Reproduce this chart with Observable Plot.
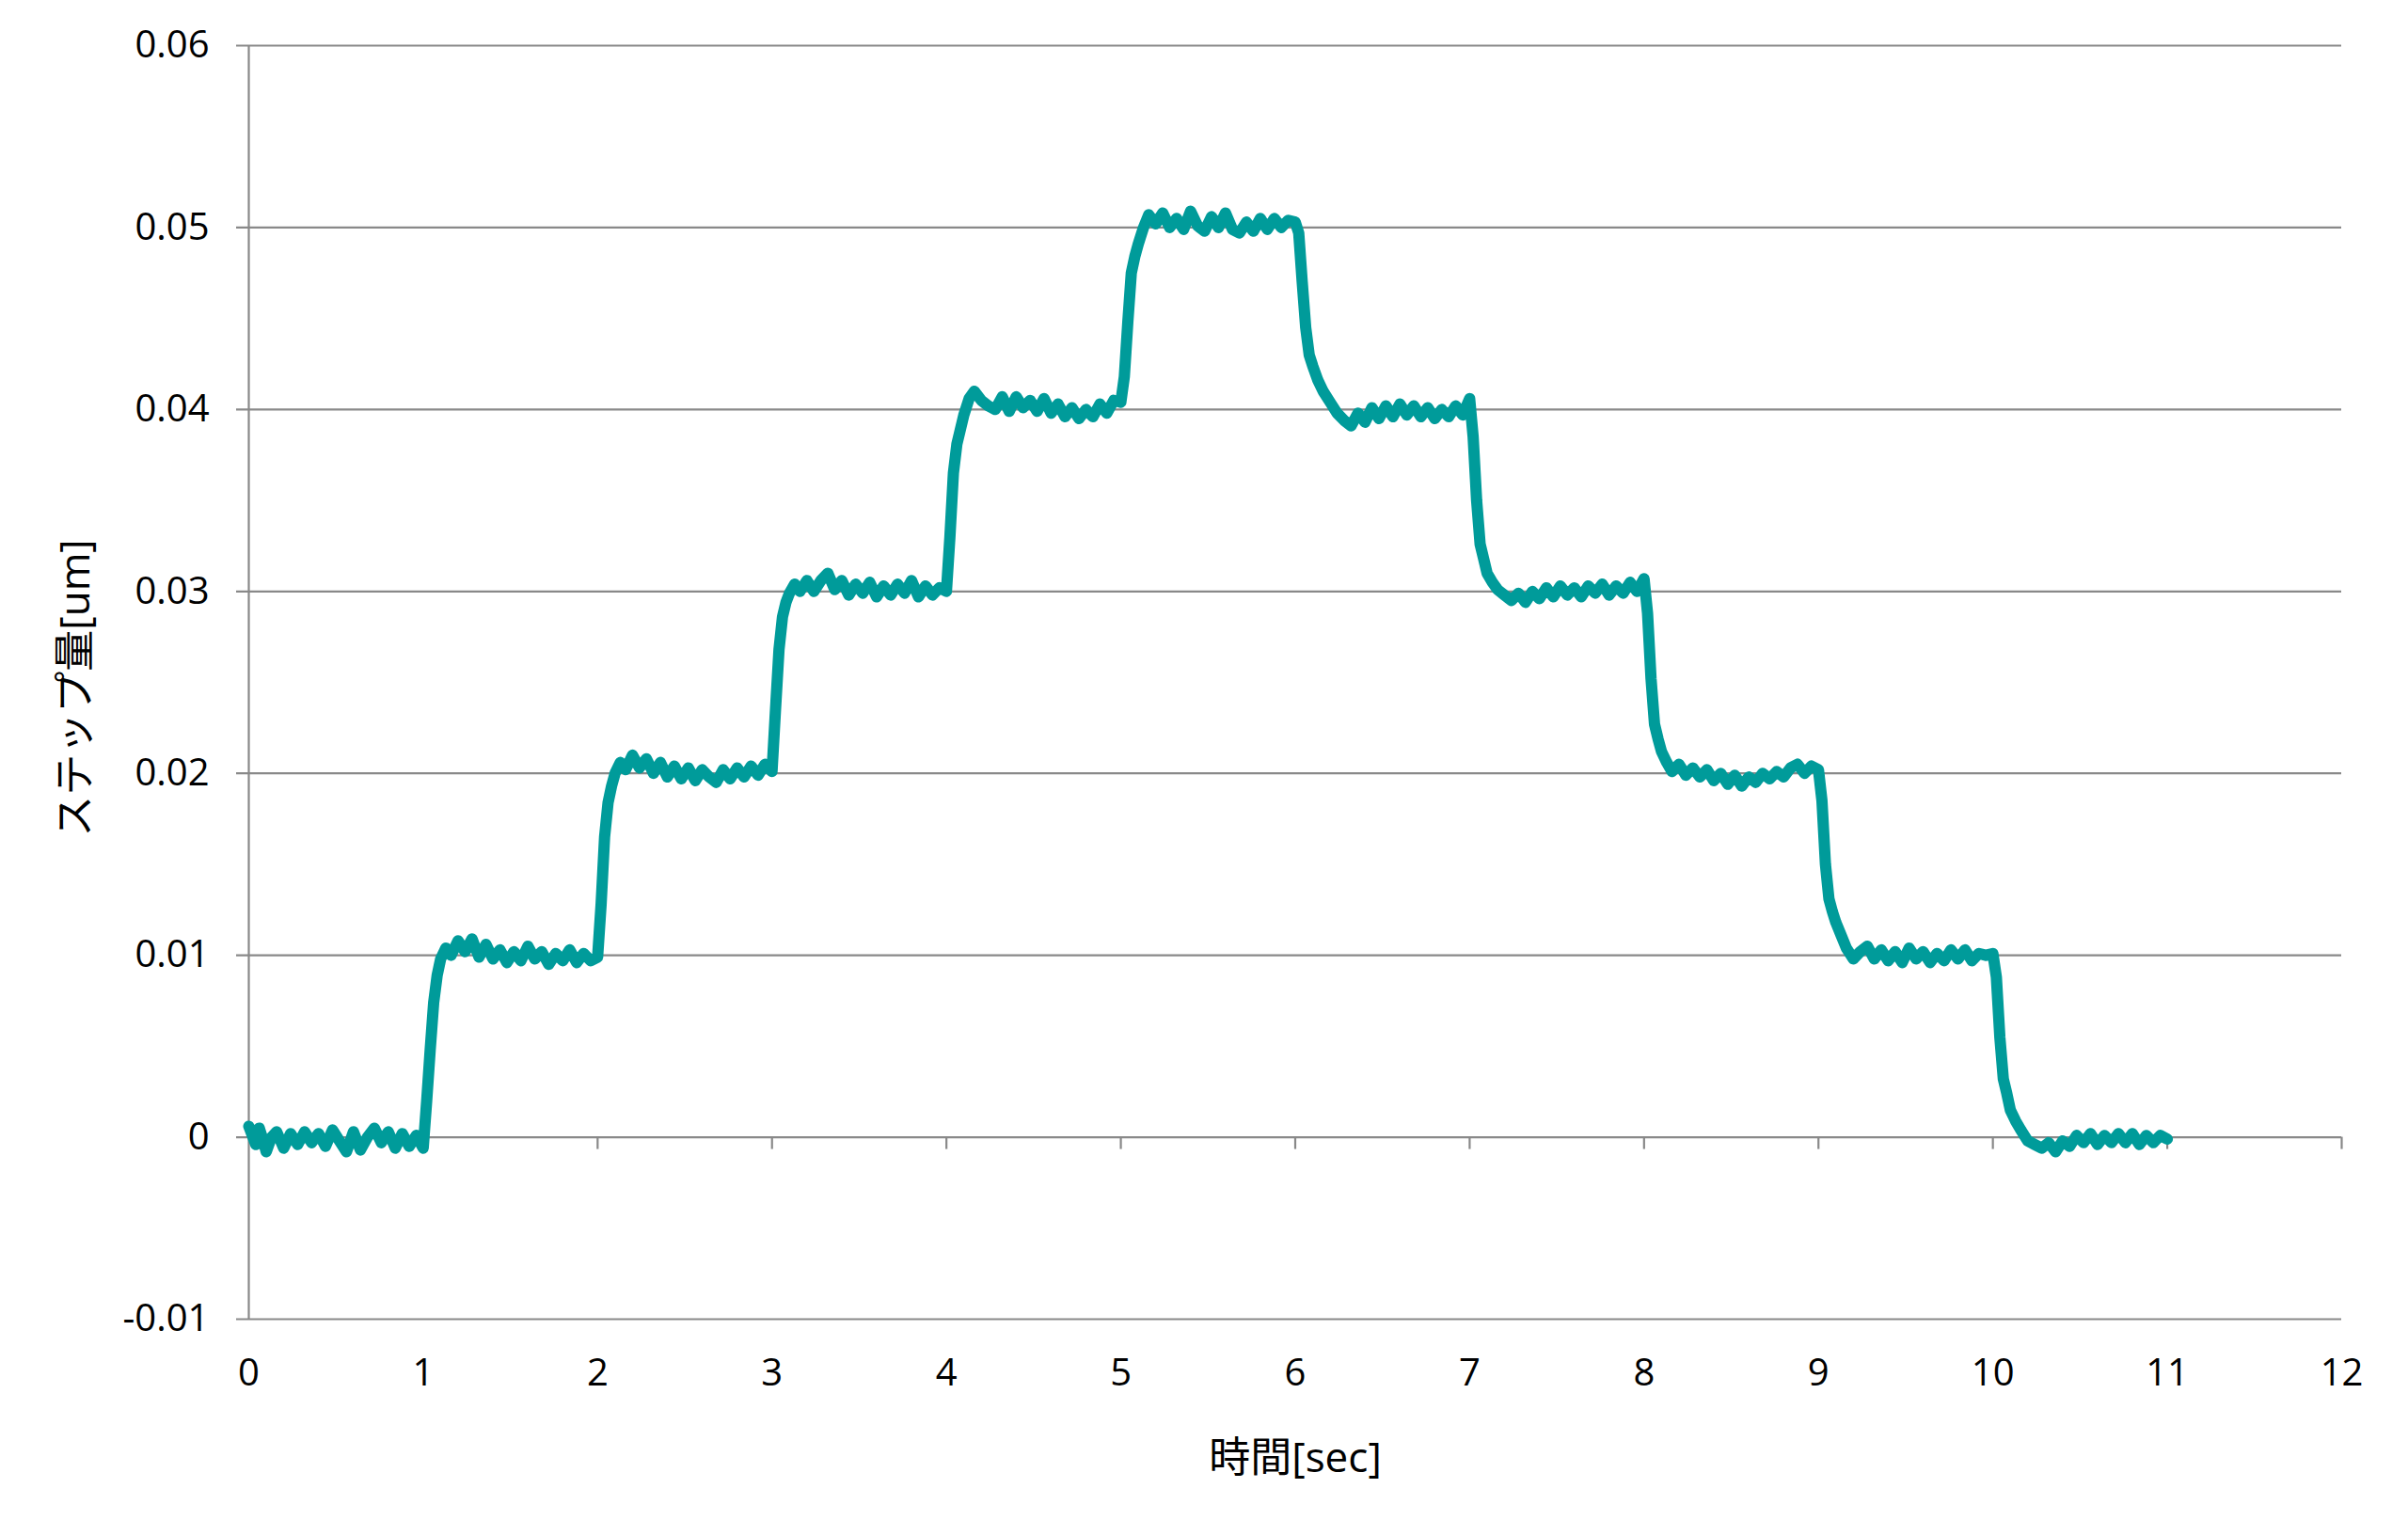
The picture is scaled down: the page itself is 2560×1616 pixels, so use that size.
<!DOCTYPE html>
<html><head><meta charset="utf-8">
<script src="https://cdn.jsdelivr.net/npm/d3@7"></script>
<script src="https://cdn.jsdelivr.net/npm/@observablehq/plot@0.6"></script>
<style>html,body{margin:0;padding:0;background:#fff;}</style>
</head><body><div id="chart"></div>
<script>
// Axis ticks and labels
const xTicks = [0,1,2,3,4,5,6,7,8,9,10,11,12];
const xTickLabels = ["0","1","2","3","4","5","6","7","8","9","10","11","12"];
const yTicks = [-0.01,0,0.01,0.02,0.03,0.04,0.05,0.06];
const yTickLabels = ["-0.01","0","0.01","0.02","0.03","0.04","0.05","0.06"];
const xTitle = "時間[sec]";
const yTitle = "ステップ量[um]";

// Sample times within each second (offset from the start of the second)
const sampleOffsets = [0.00,0.02,0.04,0.06,0.08,0.10,0.13,0.16,0.20,0.24,0.28,0.32,0.36,0.40,0.44,0.48,0.52,0.56,0.60,0.64,0.68,0.72,0.76,0.80,0.84,0.88,0.92,0.96];

// Measured step amount [um], one array per second (0-1 s, 1-2 s, ...)
const sec0  = [0.0006,0.0001,-0.0004,0.0005,-0.0001,-0.0008,0.0000,0.0003,-0.0006,0.0002,-0.0004,0.0003,-0.0003,0.0002,-0.0005,0.0004,-0.0002,-0.0008,0.0003,-0.0007,0.0000,0.0005,-0.0003,0.0003,-0.0006,0.0002,-0.0005,0.0001];
const sec1  = [-0.0006,0.0020,0.0048,0.0074,0.0089,0.0098,0.0104,0.0100,0.0108,0.0102,0.0109,0.0099,0.0106,0.0098,0.0103,0.0096,0.0102,0.0097,0.0105,0.0098,0.0102,0.0095,0.0101,0.0097,0.0103,0.0096,0.0101,0.0097];
const sec2  = [0.0099,0.0128,0.0165,0.0184,0.0193,0.0200,0.0206,0.0202,0.0210,0.0203,0.0208,0.0200,0.0206,0.0198,0.0204,0.0197,0.0203,0.0196,0.0202,0.0198,0.0195,0.0202,0.0197,0.0203,0.0198,0.0204,0.0199,0.0205];
const sec3  = [0.0201,0.0235,0.0268,0.0286,0.0294,0.0299,0.0304,0.0300,0.0306,0.0300,0.0306,0.0310,0.0301,0.0306,0.0298,0.0304,0.0299,0.0305,0.0297,0.0303,0.0298,0.0304,0.0299,0.0306,0.0297,0.0303,0.0298,0.0302];
const sec4  = [0.0300,0.0330,0.0365,0.0381,0.0389,0.0397,0.0406,0.0410,0.0405,0.0402,0.0400,0.0407,0.0399,0.0407,0.0401,0.0405,0.0399,0.0406,0.0398,0.0403,0.0396,0.0401,0.0395,0.0400,0.0396,0.0403,0.0398,0.0405];
const sec5  = [0.0404,0.0418,0.0448,0.0475,0.0484,0.0491,0.0500,0.0507,0.0502,0.0508,0.0500,0.0505,0.0499,0.0509,0.0501,0.0498,0.0506,0.0500,0.0508,0.0499,0.0497,0.0503,0.0498,0.0505,0.0499,0.0505,0.0500,0.0504];
const sec6  = [0.0503,0.0497,0.0470,0.0445,0.0430,0.0424,0.0416,0.0410,0.0404,0.0398,0.0394,0.0391,0.0398,0.0393,0.0401,0.0395,0.0402,0.0396,0.0403,0.0397,0.0402,0.0396,0.0401,0.0395,0.0400,0.0396,0.0402,0.0397];
const sec7  = [0.0406,0.0385,0.0350,0.0326,0.0318,0.0310,0.0305,0.0301,0.0298,0.0295,0.0299,0.0294,0.0300,0.0296,0.0302,0.0297,0.0303,0.0298,0.0302,0.0297,0.0303,0.0299,0.0304,0.0298,0.0303,0.0299,0.0305,0.0300];
const sec8  = [0.0307,0.0288,0.0252,0.0227,0.0219,0.0212,0.0206,0.0201,0.0205,0.0199,0.0203,0.0198,0.0202,0.0196,0.0200,0.0194,0.0199,0.0193,0.0198,0.0195,0.0200,0.0197,0.0201,0.0198,0.0203,0.0205,0.0200,0.0204];
const sec9  = [0.0202,0.0185,0.0150,0.0131,0.0124,0.0118,0.0111,0.0104,0.0098,0.0102,0.0105,0.0098,0.0103,0.0097,0.0102,0.0096,0.0104,0.0098,0.0102,0.0096,0.0101,0.0097,0.0103,0.0098,0.0103,0.0097,0.0101,0.0100];
const sec10 = [0.0101,0.0088,0.0055,0.0032,0.0024,0.0015,0.0009,0.0004,-0.0002,-0.0004,-0.0006,-0.0003,-0.0008,-0.0002,-0.0005,0.0001,-0.0003,0.0002,-0.0004,0.0001,-0.0003,0.0002,-0.0003,0.0002,-0.0004,0.0001,-0.0003,0.0001];
const endTime = 11.0;
const endValue = -0.0001;

const seconds = [sec0,sec1,sec2,sec3,sec4,sec5,sec6,sec7,sec8,sec9,sec10];
const data = seconds.flatMap((vals, k) => vals.map((v, i) => ({t: k + sampleOffsets[i], v})));
data.push({t: endTime, v: endValue});

const gridColor = "#898989";
const lineColor = "#009B9A";
const yLabelMap = new Map(yTicks.map((d, i) => [d, yTickLabels[i]]));
const xLabelMap = new Map(xTicks.map((d, i) => [d, xTickLabels[i]]));

const chart = Plot.plot({
  width: 2560,
  height: 1616,
  marginLeft: 264,
  marginRight: 71,
  marginTop: 48,
  marginBottom: 214,
  style: {fontFamily: '"Open Sans","Noto Sans CJK JP",sans-serif', fontSize: "40px", color: "#000", background: "#fff"},
  x: {domain: [0, 12]},
  y: {domain: [-0.01, 0.06]},
  marks: [
    Plot.ruleY(yTicks, {y: d => d, stroke: gridColor, strokeWidth: 2.2, insetLeft: -13}),
    Plot.ruleX([0], {x: d => d, stroke: gridColor, strokeWidth: 2.2}),
    Plot.ruleX(xTicks.filter(d => d > 0), {x: d => d, y1: 0, y2: 0, insetBottom: -13, stroke: gridColor, strokeWidth: 2.2}),
    Plot.axisY(yTicks, {tickSize: 0, tickPadding: 42, tickFormat: d => yLabelMap.get(d), label: null, fontSize: 40}),
    Plot.axisX(xTicks, {tickSize: 0, tickPadding: 42, tickFormat: d => xLabelMap.get(d), label: null, fontSize: 40}),
    Plot.line(data, {x: "t", y: "v", stroke: lineColor, strokeWidth: 12, strokeLinejoin: "round", strokeLinecap: "round"}),
    Plot.text([xTitle], {text: d => d, frameAnchor: "bottom", textAnchor: "middle", lineAnchor: "middle", dy: 148, fontSize: 44}),
    Plot.text([yTitle], {text: d => d, frameAnchor: "left", textAnchor: "middle", lineAnchor: "middle", dx: -184, dy: 6, rotate: -90, fontSize: 44})
  ]
});
document.getElementById("chart").appendChild(chart);
</script>
</body></html>
